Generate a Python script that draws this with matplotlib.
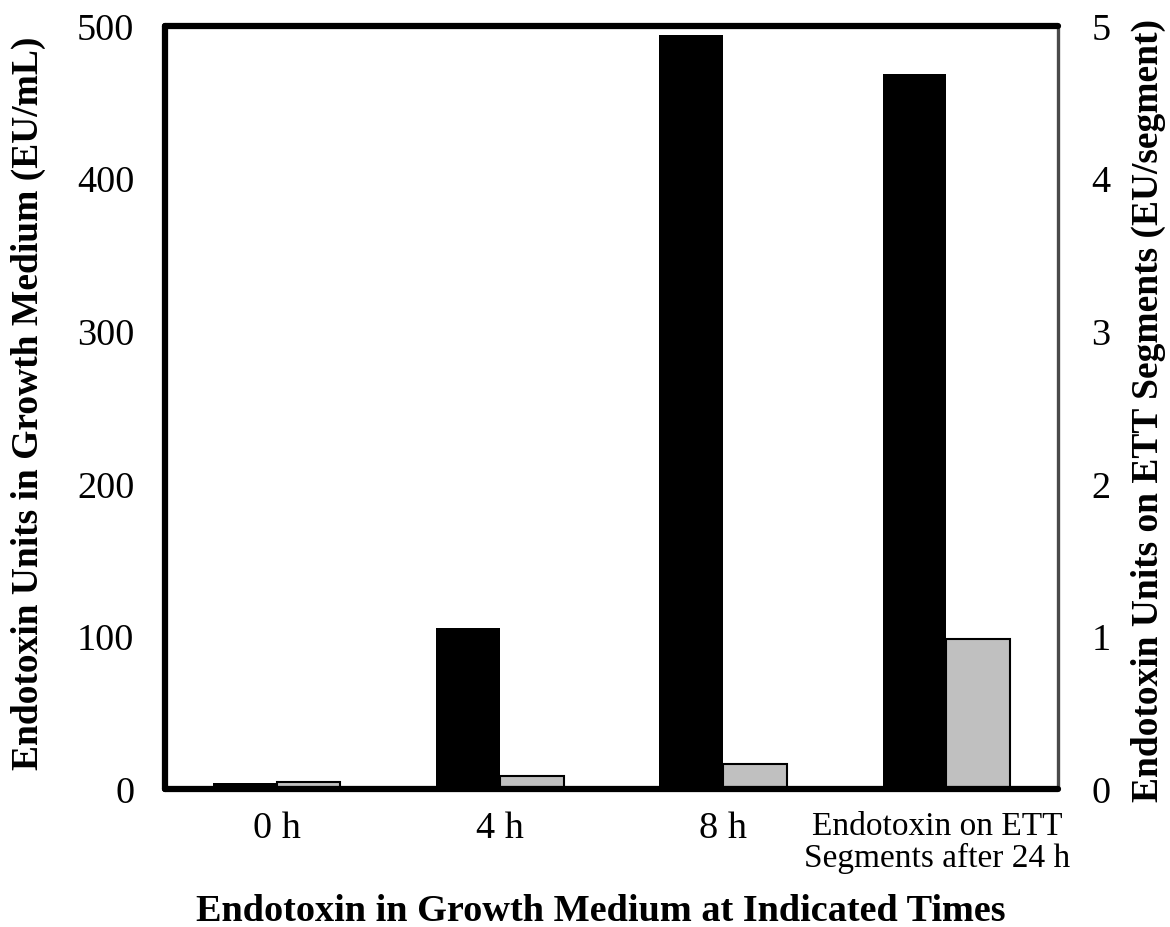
import matplotlib
matplotlib.use("Agg")
import matplotlib.pyplot as plt
import matplotlib.transforms as mtransforms
import numpy as np

# Data
categories = ["0 h", "4 h", "8 h", "Endotoxin on ETT\nSegments after 24 h"]
medium_eu_ml = [3.5, 105, 494, 468]          # left axis (EU/mL)
segment_eu = [0.043, 0.082, 0.16, 0.98]      # right axis (EU/segment)
left_ticks = [0, 100, 200, 300, 400, 500]
right_ticks = [0, 1, 2, 3, 4, 5]

plt.rcParams["font.family"] = ["Liberation Serif", "DejaVu Serif"]

W, H = 1170, 928
fig = plt.figure(figsize=(W / 100, H / 100), dpi=100)
ax = fig.add_axes([165 / W, 1 - 789.5 / H, (1058 - 165) / W, (789.5 - 26.5) / H])
ax2 = ax.twinx()

x = np.arange(len(categories))
bw = 0.285
ax.bar(x - bw / 2, medium_eu_ml, width=bw, color="black", edgecolor="none", zorder=2)
ax2.bar(x + bw / 2, segment_eu, width=bw, color="#c0c0c0", edgecolor="black",
        linewidth=1.5, zorder=2)

ax.set_xlim(-0.5, len(categories) - 0.5)
ax.set_ylim(0, 500)
ax2.set_ylim(0, 5)
ax.set_yticks(left_ticks)
ax2.set_yticks(right_ticks)
ax.set_xticks(x)
ax.set_xticklabels(categories, linespacing=1.05)

ax.tick_params(axis="y", length=0, pad=22, labelsize=27.5)
ax2.tick_params(axis="y", length=0, pad=24, labelsize=27.5)
ax.tick_params(axis="x", length=0, pad=16, labelsize=27.5)
last = ax.get_xticklabels()[-1]
last.set_fontsize(24)
last.set_transform(last.get_transform()
                   + mtransforms.ScaledTranslation(-9 / 100, 0, fig.dpi_scale_trans))

# frame: thick black on three sides, thinner grey on the right
for s in ax.spines.values():
    s.set_visible(False)
for name in ("left", "top", "bottom"):
    sp = ax2.spines[name]
    sp.set_linewidth(4.5)
    sp.set_color("black")
    sp.set_capstyle("round")
ax2.spines["right"].set_linewidth(2.4)
ax2.spines["right"].set_color("#4a4a4a")

fig.text(601 / W, 1 - 921 / H, "Endotoxin in Growth Medium at Indicated Times",
         ha="center", va="baseline", fontsize=27.5, fontweight="bold")
fig.text(38 / W, 1 - 403 / H, "Endotoxin Units in Growth Medium (EU/mL)",
         rotation=90, rotation_mode="anchor", ha="center", va="baseline",
         fontsize=27, fontweight="bold")
fig.text(1158 / W, 1 - 411 / H, "Endotoxin Units on ETT Segments (EU/segment)",
         rotation=90, rotation_mode="anchor", ha="center", va="baseline",
         fontsize=27, fontweight="bold")

fig.savefig("out.png", dpi=100, facecolor="white")
